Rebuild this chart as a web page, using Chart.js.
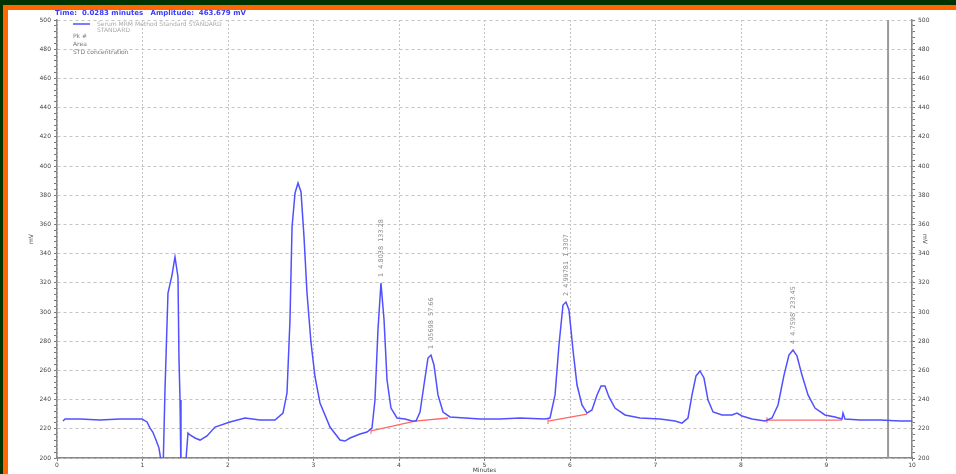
<!DOCTYPE html>
<html>
<head>
<meta charset="utf-8">
<script src="https://cdn.jsdelivr.net/npm/chart.js@4.4.1/dist/chart.umd.min.js"></script>
<style>
  html, body { margin: 0; padding: 0; background: #003300; overflow: hidden; }
  #frame { position: absolute; left: 3px; top: 5px; width: 1000px; height: 520px;
           border-left: 5px solid #ff6600; border-top: 5px solid #ff6600; background: #fff; }
  #chart { position: absolute; left: 0; top: 0; }
</style>
</head>
<body>
<div id="frame"></div>
<canvas id="chart" width="956" height="474"></canvas>
<script>
// trace: retention time (min) and detector signal (mV)
const times = [0.07, 0.094, 0.27, 0.50, 0.74, 0.994, 1.053, 1.088, 1.12, 1.158, 1.193, 1.216, 1.24,
  1.263, 1.298, 1.345, 1.38, 1.415, 1.427, 1.439, 1.45, 1.497, 1.532, 1.556, 1.614, 1.673, 1.754,
  1.848, 2.023, 2.199, 2.374, 2.55, 2.643, 2.69, 2.725, 2.749, 2.784, 2.819, 2.854, 2.889, 2.924,
  2.971, 3.018, 3.076, 3.193, 3.31, 3.368, 3.427, 3.544, 3.626, 3.684, 3.719, 3.754, 3.789, 3.825,
  3.86, 3.906, 3.977, 4.07, 4.152, 4.199, 4.246, 4.292, 4.339, 4.374, 4.409, 4.456, 4.515, 4.596,
  4.772, 4.947, 5.181, 5.415, 5.708, 5.766, 5.825, 5.871, 5.918, 5.953, 5.988, 6.035, 6.082, 6.14,
  6.199, 6.257, 6.316, 6.363, 6.409, 6.456, 6.526, 6.643, 6.819, 7.053, 7.228, 7.31, 7.38, 7.427,
  7.474, 7.52, 7.567, 7.614, 7.673, 7.778, 7.895, 7.953, 8.012, 8.129, 8.281, 8.363, 8.433, 8.503,
  8.561, 8.608, 8.655, 8.713, 8.784, 8.865, 8.982, 9.099, 9.181, 9.193, 9.216, 9.392, 9.626, 9.86, 10.0];
const signal = [225.3, 226.7, 226.7, 226.0, 226.7, 226.7, 224.7, 220.5, 217.8, 212.3, 206.8, 198, 190,
  246.6, 313.0, 325.3, 337.7, 324.0, 267.1, 239.7, 190, 190, 217.1, 215.8, 213.7, 212.3, 215.1,
  221.2, 224.7, 227.4, 226.0, 226.0, 230.8, 244.5, 294.5, 358.2, 381.5, 388.4, 382.2, 351.4, 313.0,
  278.8, 255.5, 237.7, 221.2, 212.3, 211.6, 213.7, 216.4, 217.8, 220.5, 239.7, 287.7, 319.9, 294.5,
  253.4, 234.2, 227.4, 226.7, 225.3, 225.3, 231.5, 250.0, 268.5, 270.5, 263.7, 243.2, 231.5, 228.1,
  227.4, 226.7, 226.7, 227.4, 226.7, 227.4, 243.2, 277.4, 304.8, 306.8, 301.4, 274.0, 250.0, 236.3,
  230.8, 232.9, 243.2, 249.3, 249.3, 241.8, 234.2, 229.5, 227.4, 226.7, 225.3, 223.9, 227.4, 243.2,
  256.2, 259.6, 254.8, 239.7, 231.5, 229.5, 229.5, 230.8, 228.8, 226.7, 225.3, 227.4, 236.3, 256.8,
  270.5, 274.0, 269.9, 256.8, 243.2, 234.2, 229.5, 228.1, 226.7, 230.8, 226.7, 226.0, 226.0, 225.3, 225.3];

// integration baselines (red)
const base1T = [3.672, 4.187, 4.573];
const base1V = [218.5, 225.3, 227.4];
const base2T = [5.743, 6.199];
const base2V = [225.3, 230.1];
const base3T = [8.304, 9.181];
const base3V = [226.0, 226.0];

// peak annotations
const peakTimes = [3.789, 4.374, 5.953, 8.608];
const peakValues = [319.9, 270.5, 306.8, 274.0];
const peakLabels = ['1  4.8038  133.28', '1  05698  57.66', '2  4.99781  1.3307', '4  4.7598  233.45'];

const endMarker = 9.72;
const yMin = 200, yMax = 500, yMajor = 20;

function pts(t, v) { return t.map((x, i) => ({ x: x, y: v[i] })); }

const baseStyle = {
  borderColor: '#ff6666', borderWidth: 1.3, pointStyle: 'line', rotation: 90,
  pointRadius: c => c.dataIndex === 0 ? 3 : 0, pointBorderColor: '#ff6666', pointBorderWidth: 1
};

const decor = {
  id: 'decor',
  afterDatasetsDraw(chart) {
    const c = chart.ctx, xs = chart.scales.x, ys = chart.scales.y;
    c.save();
    // peak labels (rotated)
    c.font = '6.5px "DejaVu Sans"';
    c.fillStyle = '#888';
    c.textAlign = 'left';
    c.textBaseline = 'middle';
    peakTimes.forEach((t, i) => {
      const px = xs.getPixelForValue(t), py = ys.getPixelForValue(peakValues[i]);
      c.save();
      c.translate(px, py - 6);
      c.rotate(-Math.PI / 2);
      c.fillText(peakLabels[i], 0, 0);
      c.restore();
    });
    // in-plot legend
    const lx = chart.chartArea.left + 16, ly = chart.chartArea.top + 4;
    c.font = '6px "DejaVu Sans"';
    c.strokeStyle = '#5050ff'; c.lineWidth = 1.5;
    c.beginPath(); c.moveTo(lx, ly); c.lineTo(lx + 17, ly); c.stroke();
    c.fillStyle = '#aaa';
    c.fillText('Serum MRM Method Standard STANDARD', lx + 24, ly);
    c.fillText('STANDARD', lx + 24, ly + 6);
    c.fillStyle = '#777';
    c.fillText('Pk #', lx, ly + 12);
    c.fillText('Area', lx, ly + 20);
    c.fillText('STD concentration', lx, ly + 28);
    // header
    c.font = 'bold 7px "DejaVu Sans"';
    c.fillStyle = '#3a3aff';
    c.fillText('Time:  0.0283 minutes   Amplitude:  463.679 mV', chart.chartArea.left - 2, 13);
    c.restore();
  }
};

function yAxis(pos, w) {
  return {
    type: 'linear', position: pos, min: yMin, max: yMax,
    ticks: {
      stepSize: 4, autoSkip: false, maxTicksLimit: 200, padding: 3,
      color: '#444', font: { size: 6, family: 'DejaVu Sans' },
      callback: v => Math.round(v) % yMajor === 0 ? Math.round(v) : ''
    },
    grid: {
      color: c => (c.tick && Math.round(c.tick.value) % yMajor === 0 && pos === 'left') ? '#c4c4c4' : 'rgba(0,0,0,0)',
      tickColor: '#777', tickLength: 3, lineWidth: 1
    },
    border: { color: '#888', width: 1.5, dash: [3, 3] },
    title: { display: true, text: 'mV', color: '#444', font: { size: 6, family: 'DejaVu Sans' },
             padding: { top: 28, bottom: 0 } },
    afterFit: s => { s.width = w; }
  };
}

new Chart(document.getElementById('chart'), {
  type: 'line',
  data: {
    datasets: [
      { label: 'signal', data: pts(times, signal), borderColor: '#5050ff', borderWidth: 1.5,
        pointRadius: 0, tension: 0 },
      Object.assign({ data: pts(base1T, base1V) }, baseStyle),
      Object.assign({ data: pts(base2T, base2V) }, baseStyle),
      Object.assign({ data: pts(base3T, base3V) }, baseStyle),
      { data: [{ x: endMarker, y: yMin }, { x: endMarker, y: yMax }], borderColor: '#999',
        borderWidth: 2, pointRadius: 0 }
    ]
  },
  options: {
    responsive: false, animation: false,
    layout: { padding: { top: 20, left: 0, right: 0, bottom: 0 } },
    plugins: { legend: { display: false }, tooltip: { enabled: false } },
    scales: {
      x: {
        type: 'linear', min: 0, max: 10,
        ticks: { stepSize: 1, padding: 1, color: '#444', font: { size: 6, family: 'DejaVu Sans' } },
        grid: { color: '#c4c4c4', tickColor: '#777', tickLength: 3 },
        border: { color: '#888', width: 1.5, dash: [2, 2] },
        title: { display: true, text: 'Minutes', color: '#444', font: { size: 6, family: 'DejaVu Sans' },
                 padding: 0 },
        afterFit: s => { s.height = 16; }
      },
      y: yAxis('left', 57),
      y2: yAxis('right', 44)
    }
  },
  plugins: [decor]
});
</script>
</body>
</html>
